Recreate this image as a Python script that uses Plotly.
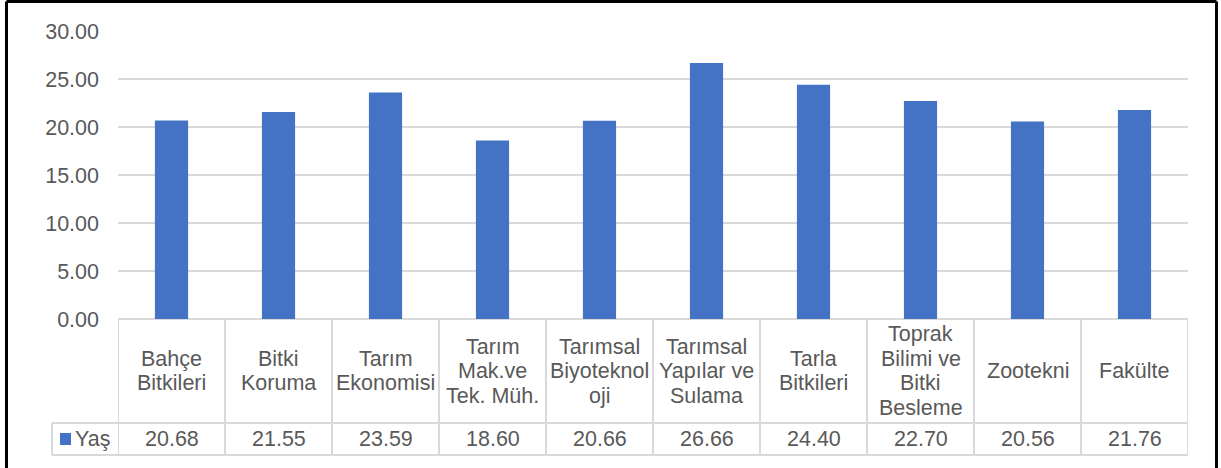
import plotly.graph_objects as go

categories = ["Bahçe Bitkileri", "Bitki Koruma", "Tarım Ekonomisi", "Tarım Mak.ve Tek. Müh.",
              "Tarımsal Biyoteknoloji", "Tarımsal Yapılar ve Sulama", "Tarla Bitkileri",
              "Toprak Bilimi ve Bitki Besleme", "Zootekni", "Fakülte"]
label_lines = [["Bahçe", "Bitkileri"], ["Bitki", "Koruma"], ["Tarım", "Ekonomisi"],
               ["Tarım", "Mak.ve", "Tek. Müh."], ["Tarımsal", "Biyoteknol", "oji"],
               ["Tarımsal", "Yapılar ve", "Sulama"], ["Tarla", "Bitkileri"],
               ["Toprak", "Bilimi ve", "Bitki", "Besleme"], ["Zootekni"], ["Fakülte"]]
series_name = "Yaş"
values = [20.68, 21.55, 23.59, 18.60, 20.66, 26.66, 24.40, 22.70, 20.56, 21.76]
y_ticks = [0, 5, 10, 15, 20, 25, 30]

W, H = 1221, 468
PL, PR, PT, PB = 118, 1188, 31, 319   # plot area in pixels
L, T = PL, PT
R = W - PR
B = H - PB
PW, PH = W - L - R, H - T - B
def px(x):
    return (x - L) / PW
def py(y):
    return (H - B - y) / PH

TXT = "#595959"
GRID = "#d9d9d9"
FONT = "Liberation Sans, Arial, sans-serif"
FS = 21.5

fig = go.Figure(go.Bar(x=categories, y=values, name=series_name,
                       marker=dict(color="#4472C4", line=dict(width=0)), showlegend=False))

shapes = []
annotations = []
row_top, row_mid, row_bot = 319, 423, 455
n = len(categories)
for yy, x0 in [(row_mid, 52), (row_bot, 52)]:
    shapes.append(dict(type="line", xref="paper", yref="paper", x0=px(x0), x1=1, y0=py(yy), y1=py(yy),
                       line=dict(color=GRID, width=2)))
for k in range(n + 1):
    shapes.append(dict(type="line", xref="x", yref="paper", x0=k - 0.5, x1=k - 0.5,
                       y0=py(row_top), y1=py(row_bot), line=dict(color=GRID, width=2)))
shapes.append(dict(type="line", xref="paper", yref="paper", x0=px(52), x1=px(52),
                   y0=py(row_mid), y1=py(row_bot), line=dict(color=GRID, width=2)))
shapes.append(dict(type="rect", xref="paper", yref="paper", x0=px(60), x1=px(71),
                   y0=py(445), y1=py(433), fillcolor="#4472C4", line=dict(width=0)))
annotations.append(dict(xref="paper", yref="paper", x=px(73), y=py(439), text=series_name,
                        showarrow=False, xanchor="left", yanchor="middle",
                        font=dict(family=FONT, size=FS, color=TXT)))
# outer black frame (bottom edge lies below the visible area)
for (x0, y0, x1, y1) in [(6.5, 1.5, 6.5, 470), (6.5, 1.5, 1216.5, 1.5), (1216.5, 1.5, 1216.5, 470)]:
    shapes.append(dict(type="line", xref="paper", yref="paper", x0=px(x0), x1=px(x1),
                       y0=py(y0), y1=py(y1), line=dict(color="black", width=3)))

spacing = 24.5
center = (row_top + row_mid) / 2
for i, lines in enumerate(label_lines):
    m = len(lines)
    for j, t in enumerate(lines):
        yy = center + (j - (m - 1) / 2) * spacing
        annotations.append(dict(xref="x", yref="paper", x=categories[i], y=py(yy), text=t,
                                showarrow=False, xanchor="center", yanchor="middle",
                                font=dict(family=FONT, size=FS, color=TXT)))
    annotations.append(dict(xref="x", yref="paper", x=categories[i], y=py((row_mid + row_bot) / 2),
                            text=f"{values[i]:.2f}", showarrow=False, xanchor="center",
                            yanchor="middle", font=dict(family=FONT, size=FS, color=TXT)))

fig.update_layout(
    width=W, height=H, margin=dict(l=L, r=R, t=T, b=B, autoexpand=False),
    paper_bgcolor="white", plot_bgcolor="white", bargap=0.69,
    shapes=shapes, annotations=annotations, hovermode=False,
    xaxis=dict(showticklabels=False, showgrid=False, zeroline=False, showline=False,
               range=[-0.5, n - 0.5], fixedrange=True),
    yaxis=dict(range=[0, 30], tickvals=y_ticks, ticktext=[f"{v:.2f}" for v in y_ticks],
               showgrid=True, gridcolor=GRID, gridwidth=2, zeroline=True, zerolinecolor=GRID,
               zerolinewidth=2, showline=False, ticks="", ticklabelstandoff=18, fixedrange=True,
               tickfont=dict(family=FONT, size=FS, color=TXT)),
)
fig.write_html("out.html", config={"displayModeBar": False},
               post_script="document.body.style.margin='0';document.body.style.overflow='hidden';")
